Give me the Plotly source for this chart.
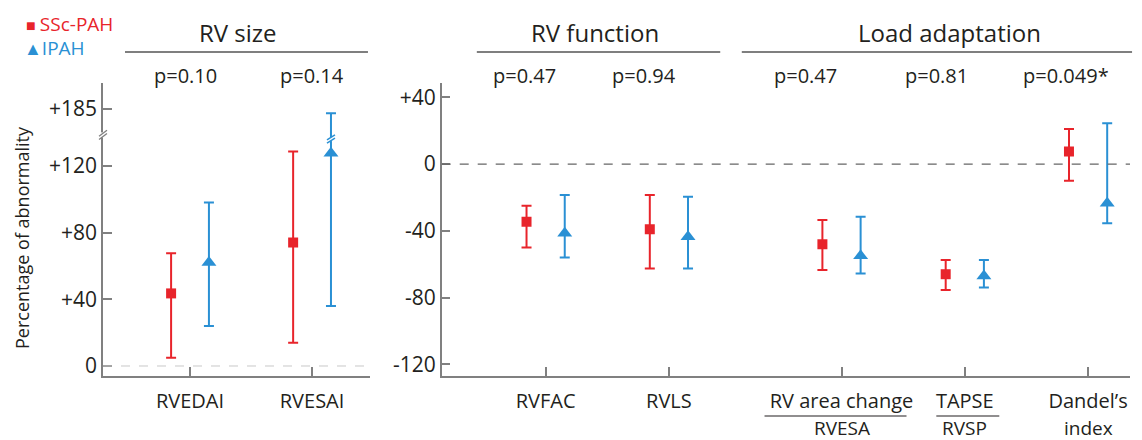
import plotly.graph_objects as go

# ---------------- data ----------------
size_cats = ["RVEDAI", "RVESAI"]
size_p = ["p=0.10", "p=0.14"]
size_ssc_mean = [43.5, 74]
size_ssc_low = [5, 14]
size_ssc_high = [67.5, 128.5]
size_ipah_mean = [62, 127.5]
size_ipah_low = [24, 36]
size_ipah_high = [98, 178]

right_cats = ["RVFAC", "RVLS", "RV area change<br>RVESA", "TAPSE<br>RVSP", "Dandel’s<br>index"]
right_p = ["p=0.47", "p=0.94", "p=0.47", "p=0.81", "p=0.049*"]
right_ssc_mean = [-34.5, -39, -48, -66, 7.5]
right_ssc_low = [-50, -62.5, -63.5, -75.5, -10]
right_ssc_high = [-25, -18.5, -33.5, -57.5, 21]
right_ipah_mean = [-41.5, -43.5, -55, -67, -23.5]
right_ipah_low = [-56, -62.5, -65.5, -74, -35.5]
right_ipah_high = [-18.5, -19.5, -31.5, -57.5, 24.5]

left_ticks = [0, 40, 80, 120, 185]
left_ticktext = ["0", "+40", "+80", "+120", "+185"]
right_ticks = [-120, -80, -40, 0, 40]
right_ticktext = ["-120", "-80", "-40", "0", "+40"]

# ---------------- layout / style ----------------
left_pos = [1, 2]
right_pos = [1, 2, 3.4, 4.4, 5.4]
P_SHIFT_LEFT = [-0.04, 0.0]
P_SHIFT_RIGHT = [-0.17, -0.2, -0.29, -0.23, -0.18]

RED = "#E8242B"
BLUE = "#2A90D4"
TXT = "#231F20"
AX = "#808080"
FONT = "Open Sans, Lato, sans-serif"
OFF = 0.155
BREAK = 136.0          # axis break on left panel
ABOVE_SCALE = 18 / 49  # compression above the break


def tf(v):
    """broken-axis transform for the left panel"""
    return v if v <= BREAK else BREAK + (v - BREAK) * ABOVE_SCALE


def tfl(vals):
    return [tf(v) for v in vals]


fig = go.Figure()


def add_series(xpos, mean, low, high, color, symbol, size, xa, ya, transform=False):
    m = tfl(mean) if transform else mean
    lo = tfl(low) if transform else low
    hi = tfl(high) if transform else high
    fig.add_trace(go.Scatter(
        x=xpos, y=m, mode="markers", xaxis=xa, yaxis=ya, showlegend=False,
        marker=dict(color=color, symbol=symbol, size=size, line=dict(width=0)),
        error_y=dict(type="data", symmetric=False,
                     array=[h - c for h, c in zip(hi, m)],
                     arrayminus=[c - l for c, l in zip(m, lo)],
                     color=color, thickness=2, width=5),
    ))


add_series([p - OFF for p in left_pos], size_ssc_mean, size_ssc_low, size_ssc_high,
           RED, "square", 10, "x", "y", True)
add_series([p + OFF for p in left_pos], size_ipah_mean, size_ipah_low, size_ipah_high,
           BLUE, "triangle-up", 13, "x", "y", True)
add_series([p - OFF for p in right_pos], right_ssc_mean, right_ssc_low, right_ssc_high,
           RED, "square", 10, "x2", "y2")
add_series([p + OFF for p in right_pos], right_ipah_mean, right_ipah_low, right_ipah_high,
           BLUE, "triangle-up", 13, "x2", "y2")

axis_common = dict(showline=True, linecolor=AX, linewidth=1.5, ticks="inside",
                   ticklen=9, tickwidth=1.5, tickcolor=AX, showgrid=False,
                   zeroline=False, automargin=False)
xfont = dict(family=FONT, size=20, color=TXT)
yfont = dict(family=FONT, size=21, color=TXT)

right_first = [c.split("<br>")[0] for c in right_cats]
right_second = [c.split("<br>")[1] if "<br>" in c else "" for c in right_cats]

# page body has an 8px margin -> figure drawn 8px smaller, margins shifted
fig.update_layout(
    width=1134, height=432,
    margin=dict(l=95, r=12, t=75, b=64),
    paper_bgcolor="white", plot_bgcolor="white",
    font=dict(family=FONT, color=TXT),
    xaxis=dict(domain=[0, 0.26], range=[0.287, 2.475], tickmode="array",
               tickvals=left_pos, ticktext=size_cats, anchor="y",
               ticklabelstandoff=6, tickfont=xfont, **axis_common),
    yaxis=dict(domain=[0, 1], range=[-6, 169.6], tickmode="array",
               tickvals=tfl(left_ticks), ticktext=left_ticktext, anchor="x",
               tickfont=yfont, **axis_common),
    xaxis2=dict(domain=[0.3298, 1], range=[0.157, 5.74], tickmode="array",
                tickvals=right_pos, ticktext=right_first, anchor="y2",
                ticklabelstandoff=6, tickfont=xfont, **axis_common),
    yaxis2=dict(domain=[0, 1], range=[-127, 48.6], tickmode="array",
                tickvals=right_ticks, ticktext=right_ticktext, anchor="x2",
                tickfont=yfont, **axis_common),
)

shapes = []
# zero reference lines
shapes.append(dict(type="line", xref="x domain", yref="y", x0=0, x1=1, y0=0, y1=0,
                   line=dict(color="#C8C8C8", width=1, dash="dash")))
shapes.append(dict(type="line", xref="x2 domain", yref="y2", x0=0, x1=1, y0=0, y1=0,
                   line=dict(color="#666666", width=1.2, dash="dash")))

# axis break on left y axis
px_x = 1 / 1027
px_y = 175.6 / 293
ab = BREAK + 2.5
shapes.append(dict(type="rect", xref="paper", yref="y", x0=-4 * px_x, x1=4 * px_x,
                   y0=ab - 2.5 * px_y, y1=ab + 2.5 * px_y, fillcolor="white",
                   line=dict(width=0), layer="above"))
for d in (-1.6, 1.6):
    shapes.append(dict(type="line", xref="paper", yref="y",
                       x0=-4 * px_x, x1=4 * px_x,
                       y0=ab + d * px_y - 3 * px_y, y1=ab + d * px_y + 3 * px_y,
                       line=dict(color=AX, width=1.3), layer="above"))

# break on the RVESAI IPAH error bar
bx = left_pos[1] + OFF
ux = 1 / 122
shapes.append(dict(type="rect", xref="x", yref="y", x0=bx - 3 * ux, x1=bx + 3 * ux,
                   y0=BREAK - 2 * px_y, y1=BREAK + 2 * px_y, fillcolor="white",
                   line=dict(width=0), layer="above"))
for d in (-1.6, 1.6):
    shapes.append(dict(type="line", xref="x", yref="y",
                       x0=bx - 4 * ux, x1=bx + 4 * ux,
                       y0=BREAK + d * px_y - 2.5 * px_y, y1=BREAK + d * px_y + 2.5 * px_y,
                       line=dict(color=BLUE, width=1.5), layer="above"))

# header underlines
for x0, x1 in [(0.0214, 0.258), (0.364, 0.601), (0.622, 1.002)]:
    shapes.append(dict(type="line", xref="paper", yref="paper", x0=x0, x1=x1,
                       y0=1.106, y1=1.106, line=dict(color="#555555", width=1.5)))

# fraction lines under the ratio tick labels
ux2 = 1 / 123.3
for cx, hw in [(right_pos[2] - 6 * ux2, 71 * ux2), (right_pos[3] + 3 * ux2, 31.5 * ux2)]:
    shapes.append(dict(type="line", xref="x2", yref="paper", x0=cx - hw, x1=cx + hw,
                       y0=-0.1365, y1=-0.1365, line=dict(color=TXT, width=1.2)))

fig.update_layout(shapes=shapes)

ann = []
# second lines of the right-panel category labels
for txt, p in zip(right_second, right_pos):
    if txt:
        ann.append(dict(text=txt, x=p, y=-0.1758, xref="x2", yref="paper", showarrow=False,
                        font=dict(family=FONT, size=19, color=TXT),
                        xanchor="center", yanchor="middle"))
# headers
for txt, x in [("RV size", 0.1315), ("RV function", 0.4795), ("Load adaptation", 0.8247)]:
    ann.append(dict(text=txt, x=x, y=1.174, xref="paper", yref="paper", showarrow=False,
                    font=dict(family=FONT, size=24, color=TXT), xanchor="center", yanchor="middle"))
# p-values
for txt, p, s in zip(size_p, left_pos, P_SHIFT_LEFT):
    ann.append(dict(text=txt, x=p + s, y=1.027, xref="x", yref="paper", showarrow=False,
                    font=xfont, xanchor="center", yanchor="middle"))
for txt, p, s in zip(right_p, right_pos, P_SHIFT_RIGHT):
    ann.append(dict(text=txt, x=p + s, y=1.027, xref="x2", yref="paper", showarrow=False,
                    font=xfont, xanchor="center", yanchor="middle"))
# y-axis title
ann.append(dict(text="Percentage of abnormality", x=-0.079, y=0.474, xref="paper", yref="paper",
                showarrow=False, textangle=-90, font=dict(family=FONT, size=18, color=TXT),
                xanchor="center", yanchor="middle"))
# legend
ann.append(dict(text="<span style='font-size:16px'>■ </span>SSc-PAH", x=-0.077, y=1.200,
                xref="paper", yref="paper", showarrow=False, xanchor="left", yanchor="middle",
                font=dict(family=FONT, size=19, color=RED)))
ann.append(dict(text="<span style='font-size:18px'>▲</span>IPAH", x=-0.079, y=1.118,
                xref="paper", yref="paper", showarrow=False, xanchor="left", yanchor="middle",
                font=dict(family=FONT, size=19, color=BLUE)))
fig.update_layout(annotations=ann)

fig.write_html("out.html")
